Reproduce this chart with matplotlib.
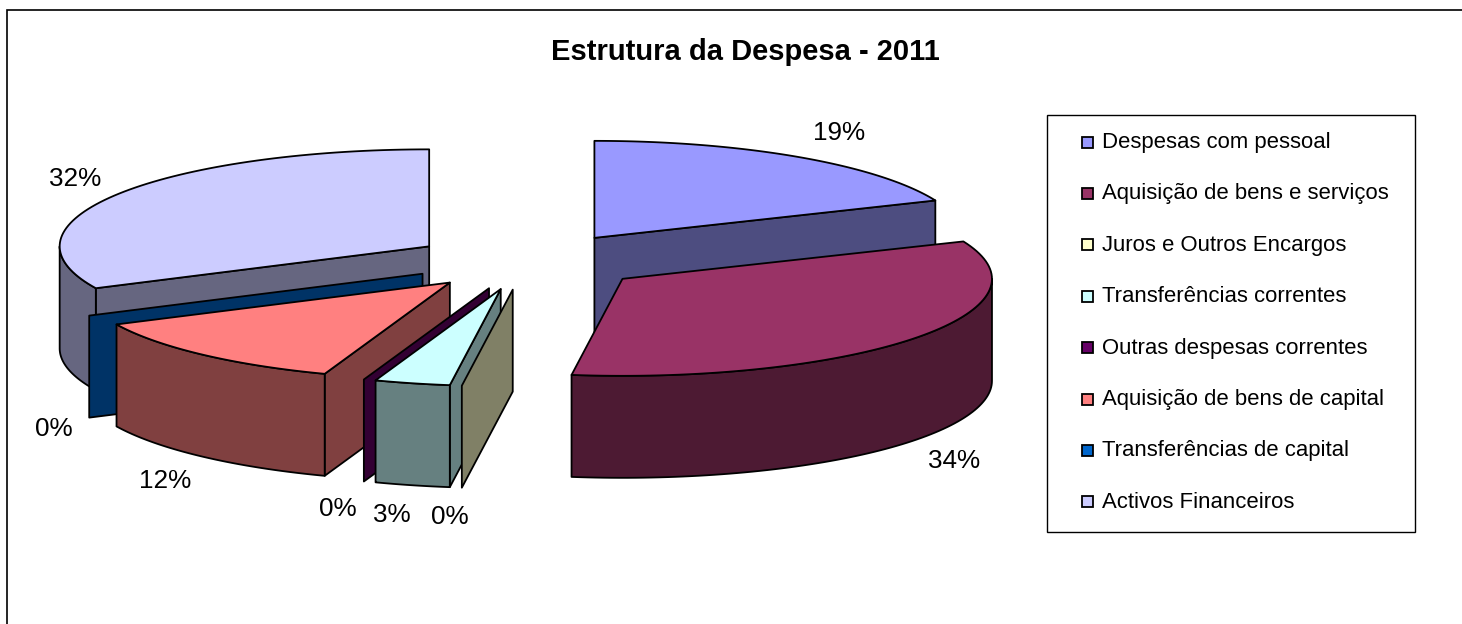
import numpy as np
import matplotlib
matplotlib.use("Agg")
import matplotlib.pyplot as plt
from matplotlib.patches import Polygon, Rectangle

title = "Estrutura da Despesa - 2011"
categories = ["Despesas com pessoal", "Aquisição de bens e serviços", "Juros e Outros Encargos",
              "Transferências correntes", "Outras despesas correntes", "Aquisição de bens de capital",
              "Transferências de capital", "Activos Financeiros"]
values = [18.7, 33.5, 0.0, 3.3, 0.0, 12.4, 0.0, 32.1]
colors = ["#9999FF", "#993366", "#FFFFCC", "#CCFFFF", "#660066", "#FF8080", "#0066CC", "#CCCCFF"]
label_pos = [(839, 132.5), (954, 461.5), (450, 516.5), (392, 514.5), (338, 508.5), (165, 481.5), (54, 428.5), (75, 179.5)]

CX, CY, A, B, DEPTH, EXPL_X, EXPL_Y = 529, 261.5, 369.5, 97, 102, 118, 28.4
FONT = "Liberation Sans"
LW = 1.3

fig = plt.figure(figsize=(14.62, 6.24), dpi=100)
ax = fig.add_axes([0, 0, 1, 1])
ax.set_xlim(0, 1462)
ax.set_ylim(624, 0)
ax.axis("off")
ax.add_patch(Rectangle((7, 10), 1600, 800, fc="white", ec="black", lw=1.2, clip_on=True))


def dark(c):
    return tuple(v * 0.5 for v in matplotlib.colors.to_rgb(c))


def arc(apex, t0, t1, n=80):
    t = np.radians(np.linspace(t0, t1, n))
    return np.column_stack([apex[0] + A * np.sin(t), apex[1] - B * np.cos(t)])


def poly(pts, fc, z):
    ax.add_patch(Polygon(pts, closed=True, fc=fc, ec="black", lw=LW, joinstyle="round", zorder=z))


edges = np.concatenate([[0], np.cumsum(values)]) / sum(values) * 360
order = [0, 7, 6, 5, 4, 3, 2, 1]
for z, i in enumerate(order, start=2):
    t0, t1 = edges[i], edges[i + 1]
    m = np.radians((t0 + t1) / 2)
    apex = np.array([CX + EXPL_X * np.sin(m), CY - EXPL_Y * np.cos(m)])
    down = np.array([0, DEPTH])
    c = colors[i]
    if t1 - t0 < 0.01:
        e = arc(apex, t0, t0, 2)[0]
        poly([apex, e, e + down, apex + down], dark(c), z)
        continue
    # radial cut faces that turn towards the viewer
    if 180 < t0 < 360:
        e = arc(apex, t0, t0, 2)[0]
        poly([apex, e, e + down, apex + down], dark(c), z)
    if 0 < t1 < 180:
        e = arc(apex, t1, t1, 2)[0]
        poly([apex, e, e + down, apex + down], dark(c), z)
    # outer curved wall
    lo, hi = max(t0, 90), min(t1, 270)
    if hi > lo:
        a = arc(apex, lo, hi)
        poly(np.vstack([a, (a + down)[::-1]]), dark(c), z)
    # top
    poly(np.vstack([apex, arc(apex, t0, t1)]), c, z)

# data labels
for v, p in zip(values, label_pos):
    ax.text(p[0], p[1], f"{v:.0f}%", ha="center", va="center", fontsize=18.8, family=FONT, zorder=30)

ax.text(745, 52, title, ha="center", va="center", fontsize=21, fontweight="bold", family=FONT, zorder=30)

# legend
ax.add_patch(Rectangle((1047, 115), 368, 417, fc="white", ec="black", lw=1, zorder=20))
for k, (name, c) in enumerate(zip(categories, colors)):
    y = 141 + k * 51.4
    ax.add_patch(Rectangle((1082, y - 4.5), 11, 11, fc=c, ec="black", lw=1.3, zorder=21))
    ax.text(1102, y + 1.5, name, ha="left", va="center", fontsize=15.9, family=FONT, zorder=21)

fig.savefig("out.png", dpi=100)
